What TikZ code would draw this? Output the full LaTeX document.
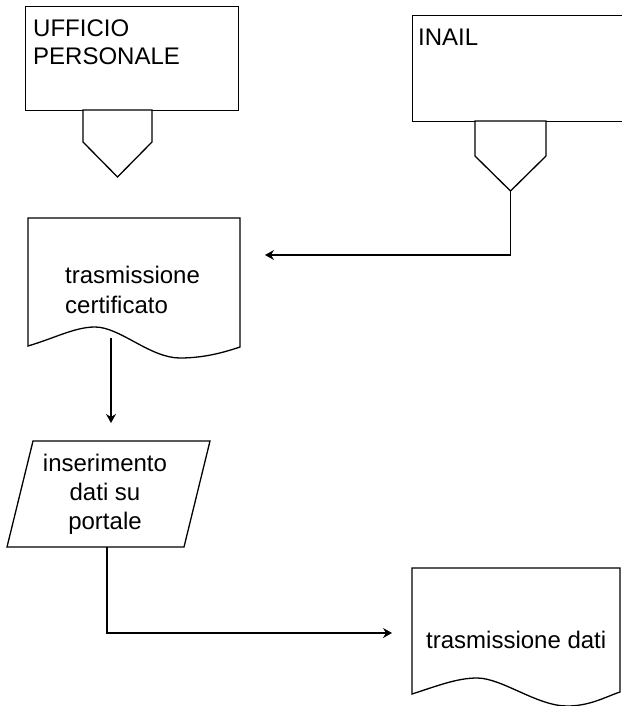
\documentclass[tikz,border=0pt]{standalone}
\usepackage{fontspec}
\setmainfont{Liberation Sans}
\usetikzlibrary{arrows.meta}
\begin{document}
\begin{tikzpicture}[x=1pt,y=-1pt,
  shapeline/.style={draw=black, line width=1.3pt, line join=miter, fill=white},
  conn/.style={draw=black, line width=1.3pt},
  arr/.style={conn, -{Stealth[length=9pt,width=10pt,inset=3pt]}},
  lbl/.style={inner sep=0pt, font=\fontsize{24}{28}\selectfont}
]
\useasboundingbox (0,0) rectangle (621,706);
\fill[white] (0,0) rectangle (621,706);

% UFFICIO PERSONALE
\node[shapeline, rectangle, inner sep=0pt, minimum width=213pt, minimum height=104pt, anchor=north west] (uff) at (25,6) {};
\node[lbl, anchor=north west, align=left] (uffT) at (33,19.5) {UFFICIO\\PERSONALE};
\draw[shapeline] (83,110) -- (152,110) -- (152,142) -- (117.5,177) -- (83,142) -- cycle;
\coordinate (uffTip) at (117.5,177);

% INAIL
\node[shapeline, rectangle, inner sep=0pt, minimum width=211pt, minimum height=106pt, anchor=north west] (inail) at (412,15) {};
\node[lbl, anchor=north west, align=left] (inailT) at (418,28.5) {INAIL};
\draw[shapeline] (475,121) -- (546,121) -- (546,156) -- (510.5,191) -- (475,156) -- cycle;
\coordinate (inTip) at (510.5,191);

% document 1
\draw[shapeline] (28,218) -- (240,218) -- (240,347)
  .. controls (225,352) and (205,358) .. (180,358)
  .. controls (150,358) and (120,327) .. (95,327)
  .. controls (75,327) and (55,338) .. (28,346) -- cycle;
\node[lbl, font=\fontsize{24}{30}\selectfont, anchor=north west, align=left] (doc1T) at (65,265.5) {trasmissione\\certificato};
\coordinate (d1out) at (111,338);

% parallelogram
\draw[shapeline] (33,441) -- (210,441) -- (184,547) -- (7,547) -- cycle;
\node[lbl, font=\fontsize{24}{29}\selectfont, anchor=north, align=center] (paraT) at (105,453.5) {inserimento\\dati su\\portale};
\coordinate (pOut) at (107,547);

% document 2
\draw[shapeline] (412,568) -- (620,568) -- (620,692)
  .. controls (605,697) and (590,706) .. (567,706)
  .. controls (537,706) and (502,678) .. (477,678)
  .. controls (457,678) and (437,686) .. (412,694) -- cycle;
\node[lbl, anchor=north west, align=left] (doc2T) at (426,630.5) {trasmissione dati};

% connectors
\coordinate (a1) at (265,255);
\coordinate (a2) at (111,423);
\coordinate (a3) at (392,633);
\draw[arr] (inTip) |- (a1);
\draw[arr] (d1out) -- (a2);
\draw[arr] (pOut) |- (a3);
\end{tikzpicture}
\end{document}
